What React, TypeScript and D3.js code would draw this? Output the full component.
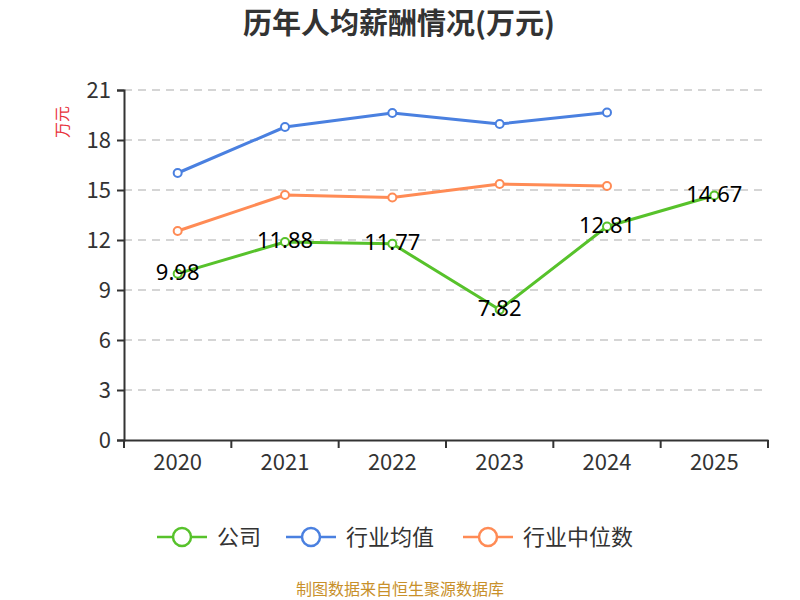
import React, { useEffect, useRef } from "react";
import * as d3 from "d3";

const years = ["2020", "2021", "2022", "2023", "2024", "2025"];
const company = [9.98, 11.88, 11.77, 7.82, 12.81, 14.67];
const industryAvg = [16.02, 18.78, 19.62, 18.96, 19.65];
const industryMedian = [12.54, 14.7, 14.55, 15.36, 15.24];
const yTicks = [0, 3, 6, 9, 12, 15, 18, 21];

const series = [
  { name: "公司", values: company, color: "#57c22b", labels: true },
  { name: "行业均值", values: industryAvg, color: "#4a80e0", labels: false },
  { name: "行业中位数", values: industryMedian, color: "#ff8b55", labels: false },
];

const App = () => {
  const ref = useRef<SVGSVGElement>(null);

  useEffect(() => {
    const width = 800, height = 600;
    const left = 124, right = 768, top = 90, bottom = 440;
    const font = "'Noto Sans CJK SC', 'Noto Sans', sans-serif";

    const svg = d3.select(ref.current);
    svg.selectAll("*").remove();
    svg.attr("width", width).attr("height", height).style("display", "block");

    const x = d3.scaleBand().domain(years).range([left, right]);
    const y = d3.scaleLinear().domain([0, 21]).range([bottom, top]);

    svg.append("text")
      .attr("x", 399).attr("y", 34)
      .attr("text-anchor", "middle")
      .style("font-family", font).style("font-weight", "bold").style("font-size", "29px")
      .style("fill", "#333")
      .text("历年人均薪酬情况(万元)");

    // grid
    svg.append("g").selectAll("line")
      .data(yTicks.filter(t => t > 0))
      .enter().append("line")
      .attr("x1", left).attr("x2", right)
      .attr("y1", d => y(d)).attr("y2", d => y(d))
      .attr("stroke", "#c8c8c8").attr("stroke-width", 1.3)
      .attr("stroke-dasharray", "8,6");

    // y axis
    const yAxis = svg.append("g")
      .attr("transform", `translate(${left},0)`)
      .call(d3.axisLeft(y).tickValues(yTicks).tickSize(7).tickPadding(6));
    yAxis.select(".domain").attr("stroke", "#333").attr("stroke-width", 2);
    yAxis.selectAll(".tick line").attr("stroke", "#333").attr("stroke-width", 2);
    yAxis.selectAll(".tick text")
      .style("font-family", font).style("font-size", "22px").style("fill", "#333");

    // x axis
    const xAxis = svg.append("g")
      .attr("transform", `translate(0,${bottom})`)
      .call(d3.axisBottom(x).tickSize(0).tickPadding(14));
    xAxis.select(".domain").attr("stroke", "#333").attr("stroke-width", 2);
    xAxis.selectAll(".tick text")
      .style("font-family", font).style("font-size", "22px").style("fill", "#333");
    const bounds = years.map(yr => x(yr) as number).concat([right]);
    xAxis.selectAll(".bt").data(bounds).enter().append("line")
      .attr("x1", d => d).attr("x2", d => d).attr("y1", 0).attr("y2", 8)
      .attr("stroke", "#333").attr("stroke-width", 2);

    // unit
    svg.append("text")
      .attr("transform", `translate(68,122) rotate(-90)`)
      .attr("text-anchor", "middle")
      .style("font-family", font).style("font-size", "16px").style("fill", "#e8323c")
      .text("万元");

    const cx = (i: number) => (x(years[i]) as number) + x.bandwidth() / 2;
    const line = d3.line<number>().x((_, i) => cx(i)).y(d => y(d));

    const order = [series[1], series[2], series[0]];
    order.forEach(s => {
      const g = svg.append("g");
      g.append("path").datum(s.values)
        .attr("d", line).attr("fill", "none")
        .attr("stroke", s.color).attr("stroke-width", 3).attr("stroke-linejoin", "round");
      g.selectAll("circle").data(s.values).enter().append("circle")
        .attr("cx", (_, i) => cx(i)).attr("cy", d => y(d)).attr("r", 4)
        .attr("fill", "#fff").attr("stroke", s.color).attr("stroke-width", 2);
      if (s.labels) {
        g.selectAll("text.lbl").data(s.values).enter().append("text")
          .attr("class", "lbl")
          .attr("x", (_, i) => cx(i)).attr("y", d => y(d) + 6)
          .attr("text-anchor", "middle")
          .style("font-family", "'Noto Sans', sans-serif").style("font-size", "22px").style("fill", "#000")
          .text(d => d.toFixed(2));
      }
    });

    // legend
    const legendX = [157, 286, 463];
    series.forEach((s, i) => {
      const g = svg.append("g").attr("transform", `translate(${legendX[i]},537)`);
      g.append("line").attr("x1", 0).attr("x2", 50).attr("y1", 0).attr("y2", 0)
        .attr("stroke", s.color).attr("stroke-width", 2.5);
      g.append("circle").attr("cx", 25).attr("cy", 0).attr("r", 9)
        .attr("fill", "#fff").attr("stroke", s.color).attr("stroke-width", 2.5);
      g.append("text").attr("x", 60).attr("y", 8)
        .style("font-family", font).style("font-size", "22px").style("fill", "#333")
        .text(s.name);
    });

    svg.append("text")
      .attr("x", 400).attr("y", 595)
      .attr("text-anchor", "middle")
      .style("font-family", font).style("font-size", "16px").style("fill", "#c8902a")
      .text("制图数据来自恒生聚源数据库");
  }, []);

  return <svg ref={ref} style={{ position: "absolute", left: 0, top: 0 }}></svg>;
};

export default App;
